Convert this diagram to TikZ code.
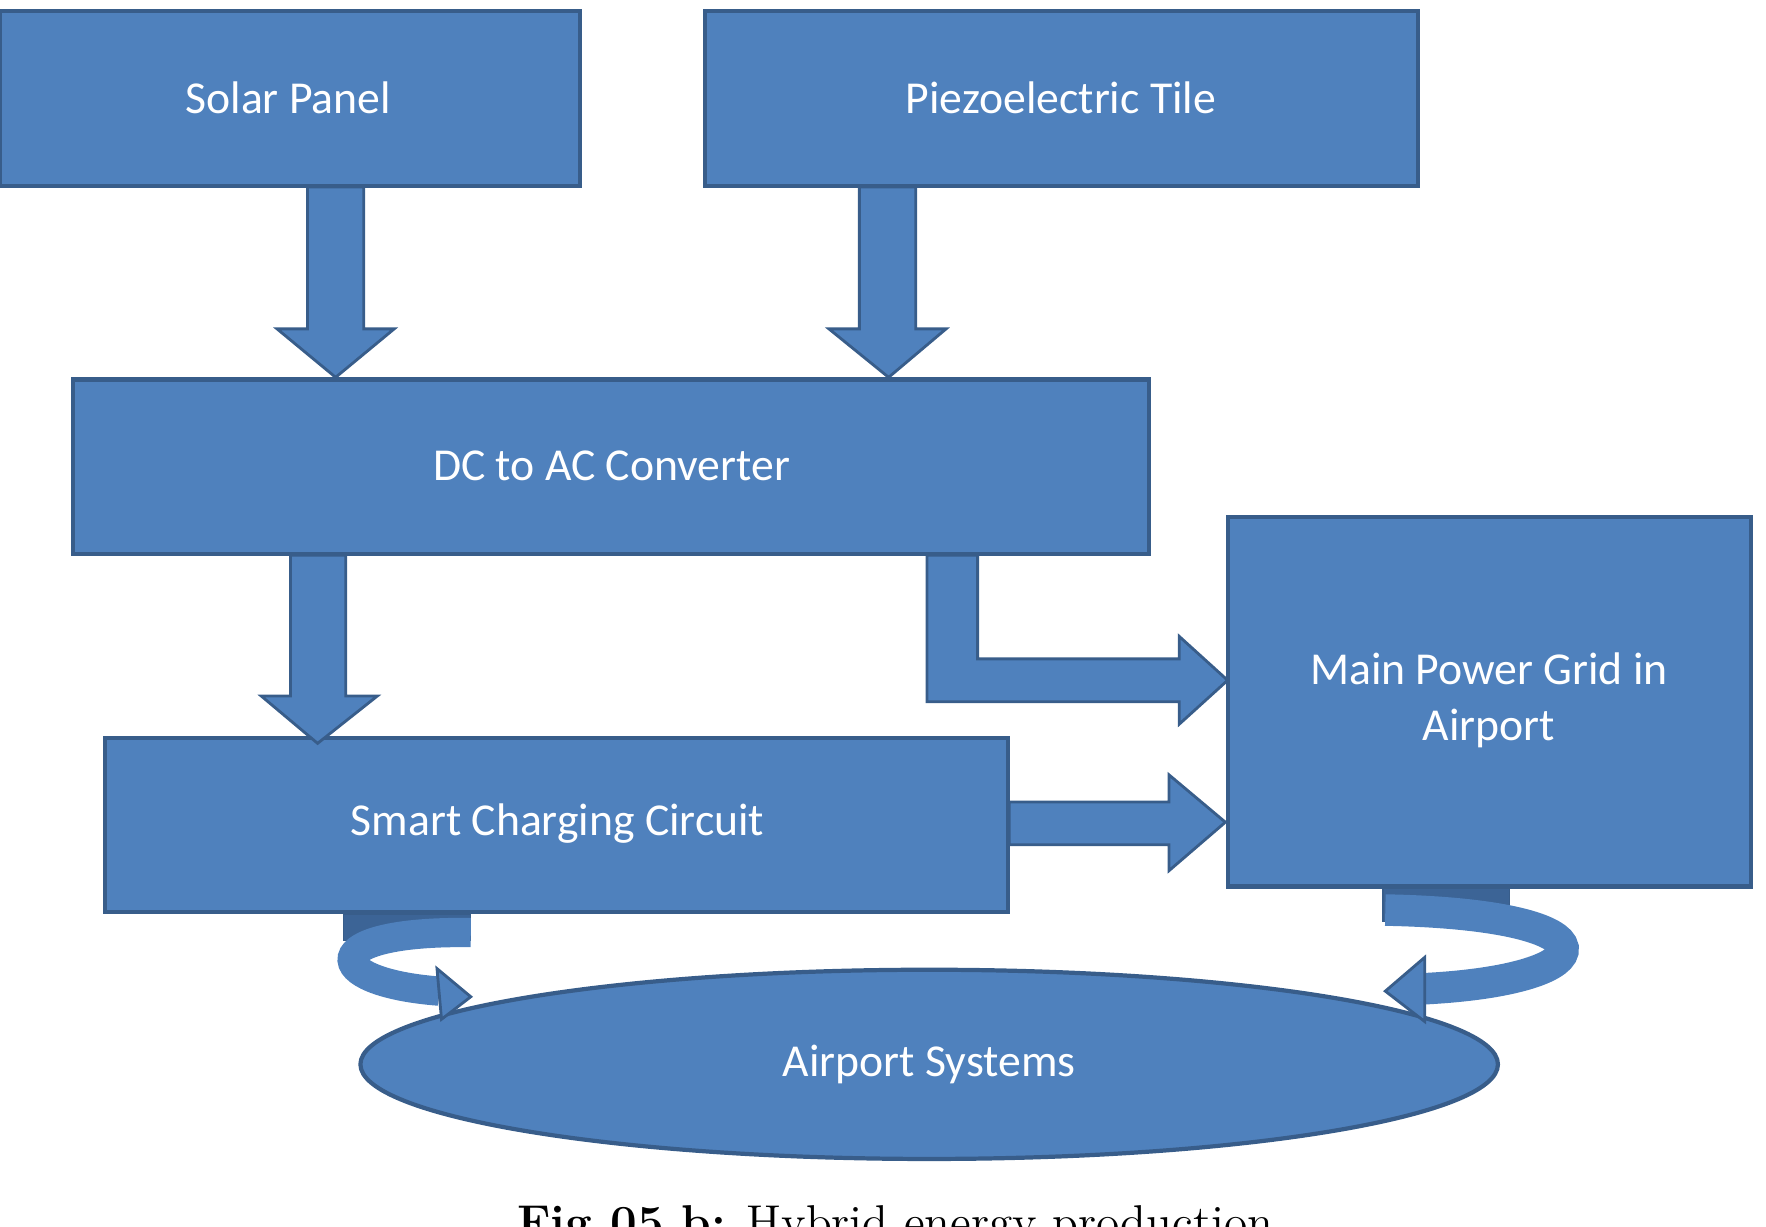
\documentclass[tikz,border=0pt]{standalone}
\usepackage{fontspec}
\setmainfont{Carlito}
\newfontfamily\capfont{Latin Modern Roman}
\usetikzlibrary{shapes.geometric,arrows.meta}
\definecolor{BoxBlue}{HTML}{4F81BD}
\definecolor{EdgeBlue}{HTML}{385D8A}
\definecolor{DeepBlue}{HTML}{3C6496}
\tikzset{
  box/.style={draw=EdgeBlue, fill=BoxBlue, line width=1.2pt},
  lbl/.style={text=white, font=\fontsize{13}{16}\selectfont, align=center},
  blk/.style={fill=BoxBlue, draw=EdgeBlue, line width=0.8pt}
}
\begin{document}
\begin{tikzpicture}[x=0.011263cm, y=-0.011263cm]
  \useasboundingbox (0,0) rectangle (1568,1089);
  % boxes
  \draw[box] (0,10) rectangle (515,165);
  \node[lbl] (solar) at (256,87) {Solar Panel};
  \draw[box] (626,10) rectangle (1259,165);
  \node[lbl] (piezo) at (942,87) {Piezoelectric Tile};
  \draw[box] (65,337) rectangle (1020,492);
  \node[lbl] (conv) at (543,414) {DC to AC Converter};
  \draw[box] (93,655) rectangle (895,810);
  \node[lbl] (smart) at (495,731) {Smart Charging Circuit};
  \draw[box] (1090,459) rectangle (1555,787);
  \node[lbl] (grid) at (1322,622) {Main Power Grid in\\Airport};

  % block arrows down
  \fill[blk] (273,166) -- (323,166) -- (323,292) -- (350,292) -- (298,335) -- (246,292) -- (273,292) -- cycle;
  \fill[blk] (763,166) -- (813,166) -- (813,292) -- (840,292) -- (789,335) -- (736,292) -- (763,292) -- cycle;
  \fill[blk] (258,493) -- (307,493) -- (307,618) -- (335,618) -- (282,660) -- (232,618) -- (258,618) -- cycle;
  % block arrows right
  \fill[blk] (823,493) -- (868,493) -- (868,585) -- (1047,585) -- (1047,565) -- (1090,604) -- (1047,643) -- (1047,623) -- (823,623) -- cycle;
  \fill[blk] (896,712) -- (1038,712) -- (1038,688) -- (1088,730) -- (1038,773) -- (1038,750) -- (896,750) -- cycle;

  % ellipse
  \node[ellipse, box, minimum width=1010*0.011263cm, minimum height=168*0.011263cm, lbl] (sys) at (825,945) {Airport Systems};

  % curved arrows
  \fill[DeepBlue, draw=EdgeBlue] (305,812) rectangle (418,835);
  \draw[BoxBlue, line width=26*0.011263cm] (418,828) .. controls (280,826) and (285,872) .. (390,880);
  \fill[blk] (388,860) -- (418,885) -- (392,905) -- cycle;
  \fill[DeepBlue, draw=EdgeBlue] (1228,789) rectangle (1340,818);
  \draw[BoxBlue, line width=28*0.011263cm] (1230,808) .. controls (1440,812) and (1430,870) .. (1262,878);
  \fill[blk] (1265,850) -- (1230,880) -- (1265,907) -- cycle;

  % caption
  \node[font=\capfont\fontsize{13.5}{16}\selectfont, anchor=base] (cap) at (795,1100) {\textbf{Fig 05 b:} Hybrid energy production};
\end{tikzpicture}
\end{document}
